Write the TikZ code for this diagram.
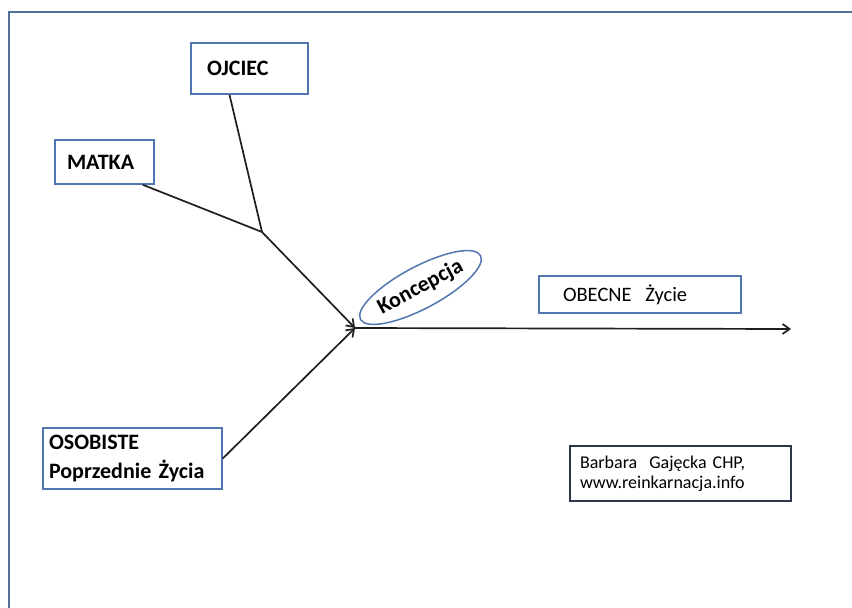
\documentclass[tikz,border=0pt]{standalone}
\usepackage{fontspec}
\setmainfont{Carlito}
\usepackage{tikz}
\usetikzlibrary{shapes.geometric,arrows.meta,calc}
\definecolor{frameblue}{RGB}{84,112,156}
\definecolor{boxblue}{RGB}{79,118,176}
\definecolor{authorline}{RGB}{44,56,74}
\definecolor{linegray}{RGB}{30,30,30}

\begin{document}
\begin{tikzpicture}[x=1pt,y=-1pt,>={Straight Barb[length=7pt,width=10pt]},
	every node/.style={inner ysep=0pt,align=left},
	namebox/.style={draw=boxblue,line width=1.5pt,fill=white,font=\fontsize{22}{29}\selectfont\bfseries},
	conn/.style={draw=linegray,line width=1.7pt}]
\useasboundingbox (0,0) rectangle (852,608);
\draw[frameblue,line width=2pt] (9,608) |- (852,12);

\node[namebox,inner xsep=16pt,text width=85pt,minimum height=51pt] (ojciec) at (249.5,68.5) {OJCIEC};
\node[namebox,inner xsep=12pt,text width=75pt,minimum height=44pt] (matka) at (104.5,162) {MATKA};
\node[namebox,inner xsep=6pt,text width=167pt,minimum height=61pt] (osob) at (132.5,458.5) {OSOBISTE\\Poprzednie Życia};
\node[namebox,font=\fontsize{20.5}{24}\selectfont,inner xsep=24pt,text width=154pt,minimum height=37pt] (obecne) at (640,294.5) {OBECNE\ \ Życie};
\node[draw=authorline,line width=1.5pt,font=\fontsize{18}{20}\selectfont,inner xsep=10pt,text width=201pt,minimum height=55pt] (autor) at (680.5,473.5) {Barbara\ \ Gajęcka CHP,\\www.reinkarnacja.info};
\node[draw=boxblue,line width=1.5pt,ellipse,minimum width=136pt,minimum height=42pt,inner sep=0pt,rotate=28,
	font=\fontsize{22}{22}\selectfont\bfseries] (konc) at (420.5,287.5) {Koncepcja};

\coordinate (j) at (262,232);
\coordinate (k) at (355,328);
\coordinate (end) at (791,329);
\draw[conn] ([xshift=-20pt]ojciec.south) -- (j);
\draw[conn] ([xshift=-12pt]matka.south east) -- (j);
\draw[conn,->] (j) -- (k);
\draw[conn,->] (osob.east) -- (k);
\draw[conn,->] (k) -- (end);
\end{tikzpicture}
\end{document}
